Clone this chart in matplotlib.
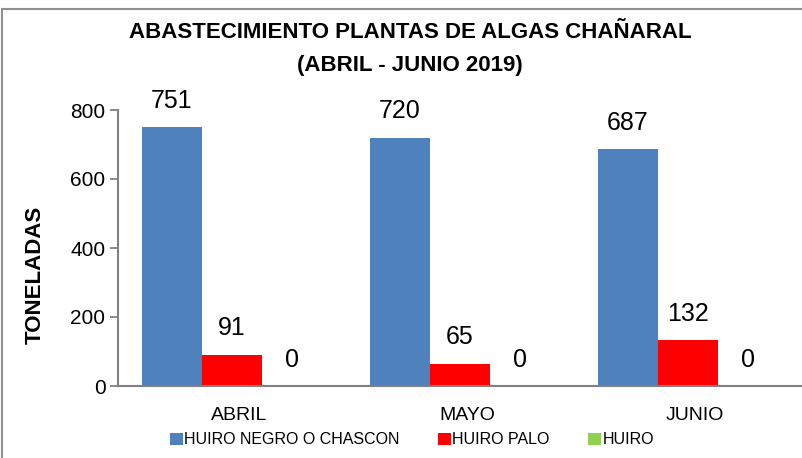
import matplotlib.pyplot as plt
from matplotlib.lines import Line2D
import numpy as np

plt.rcParams['font.family'] = ['Liberation Sans Narrow', 'Liberation Sans', 'DejaVu Sans']

months = ["ABRIL", "MAYO", "JUNIO"]
huiro_negro = [751, 720, 687]
huiro_palo = [91, 65, 132]
huiro = [0, 0, 0]

series = [
    ("HUIRO NEGRO O CHASCON", huiro_negro, "#4F81BD"),
    ("HUIRO PALO", huiro_palo, "#FF0000"),
    ("HUIRO", huiro, "#92D050"),
]

W, H = 803, 458
fig = plt.figure(figsize=(W / 100, H / 100), dpi=100)
ax = fig.add_axes([118 / W, (H - 386) / H, (802 - 118) / W, (386 - 110) / H])

x = np.arange(len(months))
bw = 180 / 228 / 3
for i, (name, vals, col) in enumerate(series):
    xs = x + (i - 1) * bw
    ax.bar(xs, vals, bw, color=col, label=name, zorder=2)
    for xi, v in zip(xs, vals):
        ax.annotate(str(v), (xi, v), xytext=(0, 19), textcoords="offset points",
                    ha="center", va="center", fontsize=18)

ax.set_xlim(-0.5, 2.5)
ax.set_ylim(0, 800)
ax.set_yticks([0, 200, 400, 600, 800])
ax.set_xticks(x + 0.03)
ax.set_xticklabels(months, fontsize=14)
ax.tick_params(axis="x", length=0, pad=15)
ax.tick_params(axis="y", length=6, width=1.3, color="#808080", labelsize=15, pad=3)
for s in ["top", "right"]:
    ax.spines[s].set_visible(False)
for s in ["left", "bottom"]:
    ax.spines[s].set_color("#808080")
    ax.spines[s].set_linewidth(1.5)

fig.text(35 / W, 1 - 275 / H, "TONELADAS", rotation=90, ha="center", va="center",
         fontsize=16, fontweight="bold")

fig.text(410 / W, 1 - 33 / H, "ABASTECIMIENTO PLANTAS DE ALGAS CHAÑARAL",
         ha="center", va="center", fontsize=16, fontweight="bold")
fig.text(410 / W, 1 - 66 / H, "(ABRIL - JUNIO 2019)",
         ha="center", va="center", fontsize=16, fontweight="bold")

fig.legend(loc="center", bbox_to_anchor=(412 / W, 1 - 440 / H), ncol=3,
           frameon=False, fontsize=11.5, handlelength=0.8, handleheight=0.8,
           handletextpad=0.1, columnspacing=2.4)

# outer frame of the original chart
fig.add_artist(Line2D([2 / W, 2 / W], [0, 1 - 9 / H], color="#909090", lw=1.5,
                      transform=fig.transFigure))
fig.add_artist(Line2D([2 / W, 1], [1 - 9 / H, 1 - 9 / H], color="#909090", lw=1.5,
                      transform=fig.transFigure))

fig.savefig("out.png", dpi=100)
